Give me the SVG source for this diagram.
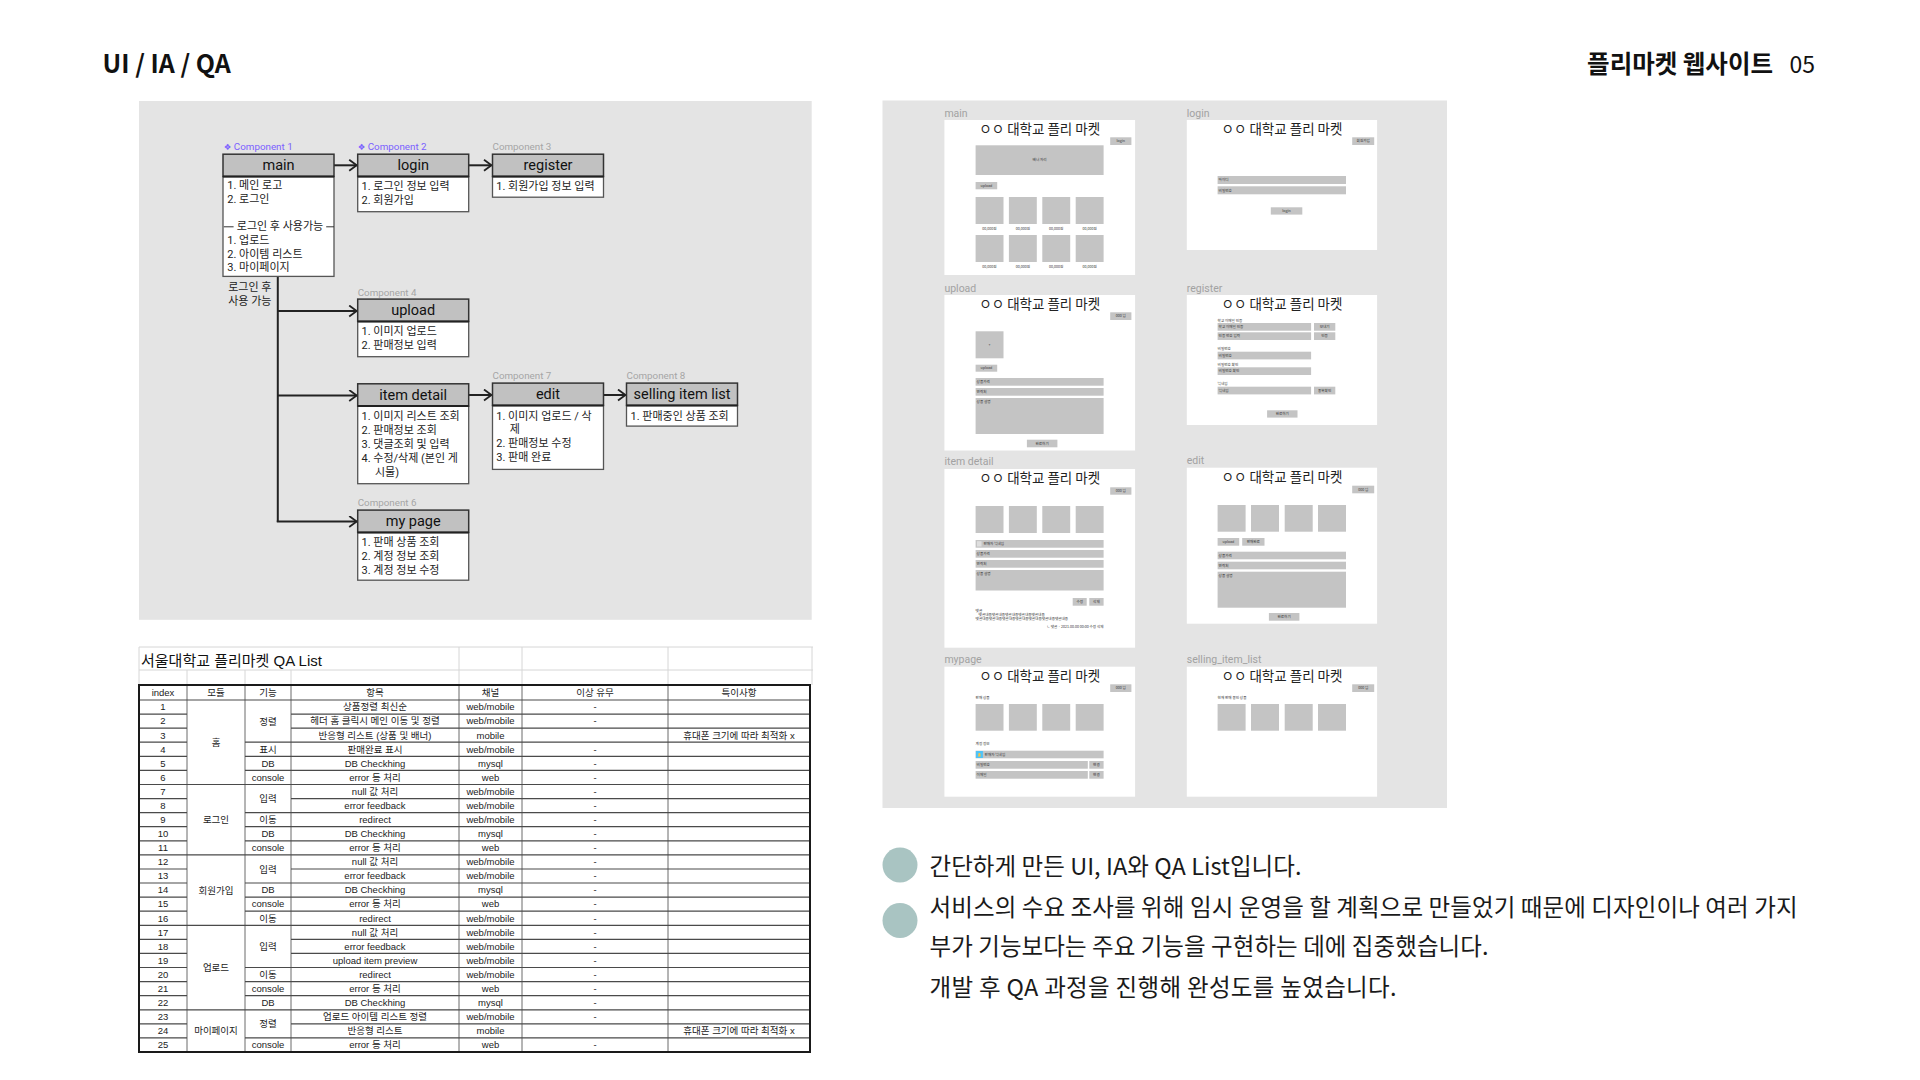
<svg xmlns="http://www.w3.org/2000/svg" width="1920" height="1080" viewBox="0 0 1920 1080">
<defs>
<marker id="chev" markerUnits="userSpaceOnUse" markerWidth="12" markerHeight="14" refX="8.5" refY="6" orient="auto">
<path d="M1,0.5 L8.5,6 L1,11.5" fill="none" stroke="#222" stroke-width="1.8"/>
</marker>
<style>
.hd{font-family:"Noto Sans CJK KR","Noto Sans",sans-serif;fill:#111}
.body{font-family:"Noto Sans CJK KR","Noto Sans",sans-serif;font-size:23.5px;fill:#1a1a1a}
.panel{fill:#e4e4e4}
.iah{fill:#c1c1c1;stroke:#333;stroke-width:1.5}
.iab{fill:#fff;stroke:#555;stroke-width:1.3}
.iad{stroke:#222;stroke-width:2}
.iat{font-family:Roboto,"Noto Sans CJK KR",sans-serif;font-size:14.5px;fill:#111;text-anchor:middle}
.iax{font-family:Roboto,"Noto Sans CJK KR",sans-serif;font-size:11px;fill:#222}
.cmp{font-family:Roboto,"Noto Sans CJK KR",sans-serif;font-size:9.8px;fill:#a6a6a6}
.cmpp{fill:#7b61ff}
.conn{stroke:#222;stroke-width:2;fill:none}
.wf{fill:#fff}
.wfl{font-family:Roboto,"Noto Sans",sans-serif;font-size:10.5px;fill:#a2a2a2}
.wft{font-family:"Noto Sans CJK KR",sans-serif;font-size:13.5px;fill:#222;text-anchor:middle}
.g{fill:#c4c4c4}
.tt{font-family:"Noto Sans CJK KR",sans-serif;font-size:3.6px;fill:#333}
.tc{text-anchor:middle}
.qt{font-family:"Liberation Sans","Noto Sans CJK KR",sans-serif;font-size:9.5px;fill:#222;text-anchor:middle}
.qtitle{font-family:"Liberation Sans","Noto Sans CJK KR",sans-serif;font-size:15px;fill:#111}
.ql{stroke:#4a4a4a;stroke-width:1.2;fill:none}
.qv{stroke:#6a6a6a;stroke-width:1;fill:none}
.qg{stroke:#d6d6d6;stroke-width:1;fill:none}
</style>
</defs>
<rect width="1920" height="1080" fill="#fff"/>

<!-- header -->
<g id="header">
<text class="hd" x="102.5" y="73" font-size="25" font-weight="700">UI / IA / QA</text>
<text class="hd" x="1773" y="73" font-size="24.5" font-weight="700" text-anchor="end">플리마켓 웹사이트</text>
<text class="hd" x="1815" y="73" font-size="23" text-anchor="end">05</text>
</g>

<!-- IA diagram -->
<g id="ia-panel">
<rect class="panel" x="139" y="101" width="672.7" height="518.8"/>
</g>

<g id="connectors">
<line class="conn" x1="333" y1="165.3" x2="356.7" y2="165.3" marker-end="url(#chev)"/>
<line class="conn" x1="468" y1="165.3" x2="491.5" y2="165.3" marker-end="url(#chev)"/>
<path class="conn" d="M277.8,276.4 V522"/>
<line class="conn" x1="277.8" y1="311" x2="356.7" y2="311" marker-end="url(#chev)"/>
<line class="conn" x1="277.8" y1="395.5" x2="356.7" y2="395.5" marker-end="url(#chev)"/>
<line class="conn" x1="276.8" y1="521.5" x2="356.7" y2="521.5" marker-end="url(#chev)"/>
<line class="conn" x1="468" y1="395" x2="491.5" y2="395" marker-end="url(#chev)"/>
<line class="conn" x1="603" y1="395" x2="625.5" y2="395" marker-end="url(#chev)"/>
</g>

<g id="ia-note">
<text class="iax" x="228.2" y="291">로그인 후</text>
<text class="iax" x="228.2" y="304.5">사용 가능</text>
</g>

<g id="ia-main">
<text class="cmp cmpp" x="223.8" y="150.3"><tspan font-family="DejaVu Sans" font-size="8.5">❖</tspan> Component 1</text>
<rect class="iab" x="223" y="176.5" width="111" height="99.9"/>
<rect class="iah" x="223" y="154.2" width="111" height="22.3"/>
<line class="iad" x1="223" y1="176.5" x2="334" y2="176.5"/>
<text class="iat" x="278.5" y="170.4">main</text>
<text class="iax" x="227.3" y="189">1. 메인 로고</text>
<text class="iax" x="227.3" y="202.9">2. 로그인</text>
<line x1="223.8" y1="226.8" x2="233.6" y2="226.8" stroke="#333" stroke-width="1"/>
<line x1="326.2" y1="226.8" x2="334" y2="226.8" stroke="#333" stroke-width="1"/>
<text class="iax" x="280" y="230.3" text-anchor="middle">로그인 후 사용가능</text>
<text class="iax" x="227.3" y="243.9">1. 업로드</text>
<text class="iax" x="227.3" y="257.8">2. 아이템 리스트</text>
<text class="iax" x="227.3" y="271.3">3. 마이페이지</text>
</g>

<g id="ia-login">
<text class="cmp cmpp" x="357.7" y="150.3"><tspan font-family="DejaVu Sans" font-size="8.5">❖</tspan> Component 2</text>
<rect class="iab" x="357.7" y="176.5" width="111" height="35.2"/>
<rect class="iah" x="357.7" y="154.2" width="111" height="22.3"/>
<line class="iad" x1="357.7" y1="176.5" x2="468.7" y2="176.5"/>
<text class="iat" x="413.2" y="170.4">login</text>
<text class="iax" x="361.5" y="190.4">1. 로그인 정보 입력</text>
<text class="iax" x="361.5" y="203.9">2. 회원가입</text>
</g>

<g id="ia-register">
<text class="cmp" x="492.5" y="150.3">Component 3</text>
<rect class="iab" x="492.5" y="176.5" width="111" height="20.7"/>
<rect class="iah" x="492.5" y="154.2" width="111" height="22.3"/>
<line class="iad" x1="492.5" y1="176.5" x2="603.5" y2="176.5"/>
<text class="iat" x="548" y="170.4">register</text>
<text class="iax" x="496.3" y="190.4">1. 회원가입 정보 입력</text>
</g>

<g id="ia-upload">
<text class="cmp" x="357.7" y="295.6">Component 4</text>
<rect class="iab" x="357.7" y="321.4" width="111" height="35.3"/>
<rect class="iah" x="357.7" y="299.1" width="111" height="22.3"/>
<line class="iad" x1="357.7" y1="321.4" x2="468.7" y2="321.4"/>
<text class="iat" x="413.2" y="315.3">upload</text>
<text class="iax" x="361.5" y="335.3">1. 이미지 업로드</text>
<text class="iax" x="361.5" y="349.2">2. 판매정보 입력</text>
</g>

<g id="ia-itemdetail">
<rect class="iab" x="357.7" y="406.1" width="111" height="77.6"/>
<rect class="iah" x="357.7" y="383.8" width="111" height="22.3"/>
<line class="iad" x1="357.7" y1="406.1" x2="468.7" y2="406.1"/>
<text class="iat" x="413.2" y="400">item detail</text>
<text class="iax" x="361.5" y="420.3">1. 이미지 리스트 조회</text>
<text class="iax" x="361.5" y="433.9">2. 판매정보 조회</text>
<text class="iax" x="361.5" y="447.7">3. 댓글조회 및 입력</text>
<text class="iax" x="361.5" y="461.6">4. 수정/삭제 (본인 게</text>
<text class="iax" x="374.9" y="475.5">시물)</text>
</g>

<g id="ia-edit">
<text class="cmp" x="492.5" y="379.3">Component 7</text>
<rect class="iab" x="492.5" y="405.4" width="111" height="64"/>
<rect class="iah" x="492.5" y="383.1" width="111" height="22.3"/>
<line class="iad" x1="492.5" y1="405.4" x2="603.5" y2="405.4"/>
<text class="iat" x="548" y="399.3">edit</text>
<text class="iax" x="496.3" y="419.6">1. 이미지 업로드 / 삭</text>
<text class="iax" x="509.7" y="433.2">제</text>
<text class="iax" x="496.3" y="447.1">2. 판매정보 수정</text>
<text class="iax" x="496.3" y="460.6">3. 판매 완료</text>
</g>

<g id="ia-selling">
<text class="cmp" x="626.5" y="379.3">Component 8</text>
<rect class="iab" x="626.5" y="405.4" width="111" height="20.7"/>
<rect class="iah" x="626.5" y="383.1" width="111" height="22.3"/>
<line class="iad" x1="626.5" y1="405.4" x2="737.5" y2="405.4"/>
<text class="iat" x="682" y="399.3">selling item list</text>
<text class="iax" x="630.5" y="419.6">1. 판매중인 상품 조회</text>
</g>

<g id="ia-mypage">
<text class="cmp" x="357.7" y="506.3">Component 6</text>
<rect class="iab" x="357.7" y="532.4" width="111" height="47.8"/>
<rect class="iah" x="357.7" y="510.1" width="111" height="22.3"/>
<line class="iad" x1="357.7" y1="532.4" x2="468.7" y2="532.4"/>
<text class="iat" x="413.2" y="526.3">my page</text>
<text class="iax" x="361.5" y="546.3">1. 판매 상품 조회</text>
<text class="iax" x="361.5" y="560.2">2. 계정 정보 조회</text>
<text class="iax" x="361.5" y="573.7">3. 계정 정보 수정</text>
</g>

<!-- QA table -->
<g id="qa-table">
<path class="qg" d="M139,647H813 M139,670H813 M139,647V685 M459,647V685 M522,647V685 M668,647V685 M812,647V685 M187,670V685 M245,670V685 M291,670V685"/>
<text class="qtitle" x="141" y="666">서울대학교 플리마켓 QA List</text>
<path class="qv" d="M187,685V1052 M245,685V1052 M291,685V1052 M459,685V1052 M522,685V1052 M668,685V1052"/>
<path class="ql" d="M139,700H810 M139,784.5H810 M139,854.9H810 M139,925.3H810 M139,1009.8H810"/>
<path class="ql" d="M139,742.2H187M245,742.2H810 M139,756.3H187M245,756.3H810 M139,770.4H187M245,770.4H810 M139,812.6H187M245,812.6H810 M139,826.7H187M245,826.7H810 M139,840.8H187M245,840.8H810 M139,883H187M245,883H810 M139,897.1H187M245,897.1H810 M139,911.2H187M245,911.2H810 M139,967.5H187M245,967.5H810 M139,981.6H187M245,981.6H810 M139,995.7H187M245,995.7H810 M139,1037.9H187M245,1037.9H810"/>
<path class="ql" d="M139,714.1H187M291,714.1H810 M139,728.2H187M291,728.2H810 M139,798.6H187M291,798.6H810 M139,869H187M291,869H810 M139,939.4H187M291,939.4H810 M139,953.4H187M291,953.4H810 M139,1023.8H187M291,1023.8H810"/>
<rect x="139" y="685" width="671" height="367" fill="none" stroke="#1a1a1a" stroke-width="2"/>
<g class="qt">
<text x="163" y="696">index</text><text x="216" y="696">모듈</text><text x="268" y="696">기능</text><text x="375" y="696">항목</text><text x="490.5" y="696">채널</text><text x="595" y="696">이상 유무</text><text x="739" y="696">특이사항</text>
<text x="163" y="710.3">1</text><text x="163" y="724.4">2</text><text x="163" y="738.5">3</text><text x="163" y="752.5">4</text><text x="163" y="766.6">5</text><text x="163" y="780.7">6</text><text x="163" y="794.8">7</text><text x="163" y="808.9">8</text><text x="163" y="822.9">9</text><text x="163" y="837">10</text><text x="163" y="851.1">11</text><text x="163" y="865.2">12</text><text x="163" y="879.3">13</text><text x="163" y="893.3">14</text><text x="163" y="907.4">15</text><text x="163" y="921.5">16</text><text x="163" y="935.6">17</text><text x="163" y="949.7">18</text><text x="163" y="963.7">19</text><text x="163" y="977.8">20</text><text x="163" y="991.9">21</text><text x="163" y="1006">22</text><text x="163" y="1020.1">23</text><text x="163" y="1034.1">24</text><text x="163" y="1048.2">25</text>
<text x="216" y="745.7">홈</text><text x="216" y="823.2">로그인</text><text x="216" y="893.6">회원가입</text><text x="216" y="971">업로드</text><text x="216" y="1034.4">마이페이지</text>
<text x="268" y="724.6">정렬</text><text x="268" y="752.5">표시</text><text x="268" y="766.6">DB</text><text x="268" y="780.7">console</text><text x="268" y="802">입력</text><text x="268" y="822.9">이동</text><text x="268" y="837">DB</text><text x="268" y="851.1">console</text><text x="268" y="872.5">입력</text><text x="268" y="893.3">DB</text><text x="268" y="907.4">console</text><text x="268" y="921.5">이동</text><text x="268" y="949.9">입력</text><text x="268" y="977.8">이동</text><text x="268" y="991.9">console</text><text x="268" y="1006">DB</text><text x="268" y="1027.3">정렬</text><text x="268" y="1048.2">console</text>
<text x="375" y="710.3">상품정렬 최신순</text><text x="375" y="724.4">헤더 홈 클릭시 메인 이동 및 정렬</text><text x="375" y="738.5">반응형 리스트 (상품 및 배너)</text><text x="375" y="752.5">판매완료 표시</text><text x="375" y="766.6">DB Checkhing</text><text x="375" y="780.7">error 등 처리</text><text x="375" y="794.8">null 값 처리</text><text x="375" y="808.9">error feedback</text><text x="375" y="822.9">redirect</text><text x="375" y="837">DB Checkhing</text><text x="375" y="851.1">error 등 처리</text><text x="375" y="865.2">null 값 처리</text><text x="375" y="879.3">error feedback</text><text x="375" y="893.3">DB Checkhing</text><text x="375" y="907.4">error 등 처리</text><text x="375" y="921.5">redirect</text><text x="375" y="935.6">null 값 처리</text><text x="375" y="949.7">error feedback</text><text x="375" y="963.7">upload item preview</text><text x="375" y="977.8">redirect</text><text x="375" y="991.9">error 등 처리</text><text x="375" y="1006">DB Checkhing</text><text x="375" y="1020.1">업로드 아이템 리스트 정렬</text><text x="375" y="1034.1">반응형 리스트</text><text x="375" y="1048.2">error 등 처리</text>
<text x="490.5" y="710.3">web/mobile</text><text x="490.5" y="724.4">web/mobile</text><text x="490.5" y="738.5">mobile</text><text x="490.5" y="752.5">web/mobile</text><text x="490.5" y="766.6">mysql</text><text x="490.5" y="780.7">web</text><text x="490.5" y="794.8">web/mobile</text><text x="490.5" y="808.9">web/mobile</text><text x="490.5" y="822.9">web/mobile</text><text x="490.5" y="837">mysql</text><text x="490.5" y="851.1">web</text><text x="490.5" y="865.2">web/mobile</text><text x="490.5" y="879.3">web/mobile</text><text x="490.5" y="893.3">mysql</text><text x="490.5" y="907.4">web</text><text x="490.5" y="921.5">web/mobile</text><text x="490.5" y="935.6">web/mobile</text><text x="490.5" y="949.7">web/mobile</text><text x="490.5" y="963.7">web/mobile</text><text x="490.5" y="977.8">web/mobile</text><text x="490.5" y="991.9">web</text><text x="490.5" y="1006">mysql</text><text x="490.5" y="1020.1">web/mobile</text><text x="490.5" y="1034.1">mobile</text><text x="490.5" y="1048.2">web</text>
<text x="595" y="710.3">-</text><text x="595" y="724.4">-</text><text x="595" y="752.5">-</text><text x="595" y="766.6">-</text><text x="595" y="780.7">-</text><text x="595" y="794.8">-</text><text x="595" y="808.9">-</text><text x="595" y="822.9">-</text><text x="595" y="837">-</text><text x="595" y="851.1">-</text><text x="595" y="865.2">-</text><text x="595" y="879.3">-</text><text x="595" y="893.3">-</text><text x="595" y="907.4">-</text><text x="595" y="921.5">-</text><text x="595" y="935.6">-</text><text x="595" y="949.7">-</text><text x="595" y="963.7">-</text><text x="595" y="977.8">-</text><text x="595" y="991.9">-</text><text x="595" y="1006">-</text><text x="595" y="1020.1">-</text><text x="595" y="1048.2">-</text>
<text x="739" y="738.5">휴대폰 크기에 따라 최적화 x</text><text x="739" y="1034.1">휴대폰 크기에 따라 최적화 x</text>
</g>
</g>

<!-- wireframes -->
<g id="wf-panel">
<rect class="panel" x="882.5" y="100.5" width="564.5" height="707.5"/>
</g>

<g id="wf-main">
<text class="wfl" x="944.4" y="116.5">main</text>
<rect class="wf" x="944.4" y="120" width="190.7" height="155"/>
<text class="wft" x="1039.7" y="134">ㅇㅇ 대학교 플리 마켓</text>
<rect class="g" x="1110.2" y="137.3" width="21.2" height="7.7"/><text class="tt tc" x="1120.8" y="142.4">login</text>
<rect class="g" x="975.6" y="145.3" width="128" height="29.7"/><text class="tt tc" x="1039.6" y="161.4">배너 자리</text>
<rect class="g" x="975.6" y="182" width="21.6" height="7.3"/><text class="tt tc" x="986.4" y="186.9">upload</text>
<rect class="g" x="975.6" y="197" width="27.9" height="27"/><rect class="g" x="1008.9" y="197" width="27.9" height="27"/><rect class="g" x="1042.3" y="197" width="27.9" height="27"/><rect class="g" x="1075.7" y="197" width="27.9" height="27"/>
<text class="tt tc" x="989.5" y="229.5">00,000원</text><text class="tt tc" x="1022.8" y="229.5">00,000원</text><text class="tt tc" x="1056.2" y="229.5">00,000원</text><text class="tt tc" x="1089.6" y="229.5">00,000원</text>
<rect class="g" x="975.6" y="235" width="27.9" height="27"/><rect class="g" x="1008.9" y="235" width="27.9" height="27"/><rect class="g" x="1042.3" y="235" width="27.9" height="27"/><rect class="g" x="1075.7" y="235" width="27.9" height="27"/>
<text class="tt tc" x="989.5" y="267.5">00,000원</text><text class="tt tc" x="1022.8" y="267.5">00,000원</text><text class="tt tc" x="1056.2" y="267.5">00,000원</text><text class="tt tc" x="1089.6" y="267.5">00,000원</text>
</g>

<g id="wf-login">
<text class="wfl" x="1186.8" y="116.5">login</text>
<rect class="wf" x="1186.8" y="120" width="190.3" height="130"/>
<text class="wft" x="1282" y="134">ㅇㅇ 대학교 플리 마켓</text>
<rect class="g" x="1352.2" y="137.3" width="22" height="7.7"/><text class="tt tc" x="1363.2" y="142.4">회원가입</text>
<rect class="g" x="1217.6" y="176" width="128.4" height="8"/><text class="tt" x="1218.6" y="181.3">아이디</text>
<rect class="g" x="1217.6" y="186.3" width="128.4" height="8"/><text class="tt" x="1218.6" y="191.6">비밀번호</text>
<rect class="g" x="1270.8" y="207.3" width="31.5" height="7.3"/><text class="tt tc" x="1286.5" y="212.2">login</text>
</g>

<g id="wf-upload">
<text class="wfl" x="944.4" y="291.5">upload</text>
<rect class="wf" x="944.4" y="295" width="190.7" height="155.5"/>
<text class="wft" x="1039.7" y="309">ㅇㅇ 대학교 플리 마켓</text>
<rect class="g" x="1110.2" y="312.3" width="21.2" height="7.7"/><text class="tt tc" x="1120.8" y="317.4">000 님</text>
<rect class="g" x="975.6" y="331.3" width="27.9" height="27"/><text class="tt tc" x="989.5" y="346">+</text>
<rect class="g" x="975.6" y="364.7" width="21.6" height="7"/><text class="tt tc" x="986.4" y="369.4">upload</text>
<rect class="g" x="975.6" y="378" width="128" height="7.7"/><text class="tt" x="976.6" y="383.1">상품가격</text>
<rect class="g" x="975.6" y="388" width="128" height="7.7"/><text class="tt" x="976.6" y="393.1">연락처</text>
<rect class="g" x="975.6" y="398" width="128" height="36"/><text class="tt" x="976.6" y="402.8">상품 설명</text>
<rect class="g" x="1026.9" y="439.7" width="30.5" height="7.6"/><text class="tt tc" x="1042.1" y="444.8">완료하기</text>
</g>

<g id="wf-register">
<text class="wfl" x="1186.8" y="291.5">register</text>
<rect class="wf" x="1186.8" y="295" width="190.3" height="130"/>
<text class="wft" x="1282" y="309">ㅇㅇ 대학교 플리 마켓</text>
<text class="tt" x="1217.6" y="321.6">학교 이메일 인증</text>
<rect class="g" x="1217.6" y="323" width="93.5" height="7.7"/><text class="tt" x="1218.6" y="328.1">학교 이메일 인증</text>
<rect class="g" x="1314" y="323" width="21.3" height="7.7"/><text class="tt tc" x="1324.6" y="328.1">보내기</text>
<rect class="g" x="1217.6" y="332.3" width="93.5" height="7.7"/><text class="tt" x="1218.6" y="337.4">인증 번호 입력</text>
<rect class="g" x="1314" y="332.3" width="21.3" height="7.7"/><text class="tt tc" x="1324.6" y="337.4">인증</text>
<text class="tt" x="1217.6" y="350.2">비밀번호</text>
<rect class="g" x="1217.6" y="351.7" width="93.5" height="7.7"/><text class="tt" x="1218.6" y="356.8">비밀번호</text>
<text class="tt" x="1217.6" y="365.8">비밀번호 확인</text>
<rect class="g" x="1217.6" y="367.3" width="93.5" height="7.7"/><text class="tt" x="1218.6" y="372.4">비밀번호 확인</text>
<text class="tt" x="1217.6" y="385.2">닉네임</text>
<rect class="g" x="1217.6" y="386.7" width="93.5" height="7.7"/><text class="tt" x="1218.6" y="391.8">닉네임</text>
<rect class="g" x="1314" y="386.7" width="21.3" height="7.7"/><text class="tt tc" x="1324.6" y="391.8">중복확인</text>
<rect class="g" x="1267.1" y="410.3" width="30.4" height="7.3"/><text class="tt tc" x="1282.3" y="415.3">완료하기</text>
</g>

<g id="wf-itemdetail">
<text class="wfl" x="944.4" y="465">item detail</text>
<rect class="wf" x="944.4" y="469" width="190.7" height="178.7"/>
<text class="wft" x="1039.7" y="483">ㅇㅇ 대학교 플리 마켓</text>
<rect class="g" x="1110.2" y="487.3" width="21.2" height="7.4"/><text class="tt tc" x="1120.8" y="492.3">000 님</text>
<rect class="g" x="975.6" y="506" width="27.9" height="27"/><rect class="g" x="1008.9" y="506" width="27.9" height="27"/><rect class="g" x="1042.3" y="506" width="27.9" height="27"/><rect class="g" x="1075.7" y="506" width="27.9" height="27"/>
<rect class="g" x="975.6" y="540" width="128" height="7.7"/><rect x="977" y="541.2" width="4.5" height="5.3" fill="#dedede"/><text class="tt" x="983.5" y="545.1">판매자 닉네임</text>
<rect class="g" x="975.6" y="550" width="128" height="7.7"/><text class="tt" x="976.6" y="555.1">상품가격</text>
<rect class="g" x="975.6" y="560" width="128" height="7.7"/><text class="tt" x="976.6" y="565.1">연락처</text>
<rect class="g" x="975.6" y="570" width="128" height="20.5"/><text class="tt" x="976.6" y="574.8">상품 설명</text>
<rect class="g" x="1072.7" y="598" width="14" height="7.7"/><text class="tt tc" x="1079.7" y="603.1">수정</text>
<rect class="g" x="1089.3" y="598" width="14.3" height="7.7"/><text class="tt tc" x="1096.4" y="603.1">삭제</text>
<text class="tt" x="975.6" y="611.5" font-size="4">댓글</text>
<text class="tt" x="978.6" y="615.5" font-size="2.4">댓글내용댓글내용댓글내용댓글내용댓글내용</text>
<text class="tt" x="975.6" y="619.5" font-size="2.4">댓글내용댓글내용댓글내용댓글내용댓글내용댓글내용댓글내용</text>
<text class="tt" x="1103.6" y="627.5" font-size="2.2" text-anchor="end">ㄴ 댓글 · 2021.00.00 00:00 수정 삭제</text>
</g>

<g id="wf-edit">
<text class="wfl" x="1186.8" y="464">edit</text>
<rect class="wf" x="1186.8" y="467.7" width="190.3" height="156"/>
<text class="wft" x="1282" y="481.5">ㅇㅇ 대학교 플리 마켓</text>
<rect class="g" x="1352.2" y="485.7" width="22" height="7.6"/><text class="tt tc" x="1363.2" y="490.8">000 님</text>
<rect class="g" x="1217.6" y="505" width="28" height="26.7"/><rect class="g" x="1251" y="505" width="28" height="26.7"/><rect class="g" x="1284.7" y="505" width="28" height="26.7"/><rect class="g" x="1318" y="505" width="28" height="26.7"/>
<rect class="g" x="1217.6" y="538" width="21.6" height="7.7"/><text class="tt tc" x="1228.4" y="543.1">upload</text>
<rect class="g" x="1242.2" y="538" width="22.3" height="7.7"/><text class="tt tc" x="1253.3" y="543.1">판매완료</text>
<rect class="g" x="1217.6" y="551.7" width="128.4" height="7.6"/><text class="tt" x="1218.6" y="556.8">상품가격</text>
<rect class="g" x="1217.6" y="561.7" width="128.4" height="7.6"/><text class="tt" x="1218.6" y="566.8">연락처</text>
<rect class="g" x="1217.6" y="571.7" width="128.4" height="36"/><text class="tt" x="1218.6" y="576.5">상품 설명</text>
<rect class="g" x="1268.9" y="613" width="30.5" height="7.7"/><text class="tt tc" x="1284.1" y="618.1">완료하기</text>
</g>

<g id="wf-mypage">
<text class="wfl" x="944.4" y="662.5">mypage</text>
<rect class="wf" x="944.4" y="666.7" width="190.7" height="130"/>
<text class="wft" x="1039.7" y="680.5">ㅇㅇ 대학교 플리 마켓</text>
<rect class="g" x="1110.2" y="684.3" width="21.2" height="7.7"/><text class="tt tc" x="1120.8" y="689.4">000 님</text>
<text class="tt" x="975.6" y="698.5">판매 상품</text>
<rect class="g" x="975.6" y="704" width="27.9" height="26.7"/><rect class="g" x="1008.9" y="704" width="27.9" height="26.7"/><rect class="g" x="1042.3" y="704" width="27.9" height="26.7"/><rect class="g" x="1075.7" y="704" width="27.9" height="26.7"/>
<text class="tt" x="975.6" y="744.5">계정 정보</text>
<rect class="g" x="975.6" y="750.7" width="128" height="7.6"/>
<rect x="975.9" y="751" width="7" height="7" fill="#4fc3f7"/><path d="M977.8,756.5 h3.2 l-0.5,-0.8 v-1.6 a1.1,1.1 0 0 0 -2.2,0 v1.6 z" fill="#f6c344"/>
<text class="tt" x="984.6" y="755.8">판매자 닉네임</text>
<rect class="g" x="975.6" y="761" width="112.2" height="7.7"/><text class="tt" x="976.6" y="766.1">비밀번호</text>
<rect class="g" x="1089.3" y="761" width="14.3" height="7.7"/><text class="tt tc" x="1096.4" y="766.1">변경</text>
<rect class="g" x="975.6" y="771" width="112.2" height="7.7"/><text class="tt" x="976.6" y="776.1">이메일</text>
<rect class="g" x="1089.3" y="771" width="14.3" height="7.7"/><text class="tt tc" x="1096.4" y="776.1">변경</text>
</g>

<g id="wf-selling">
<text class="wfl" x="1186.8" y="662.5">selling_item_list</text>
<rect class="wf" x="1186.8" y="666.7" width="190.3" height="130"/>
<text class="wft" x="1282" y="680.5">ㅇㅇ 대학교 플리 마켓</text>
<rect class="g" x="1352.2" y="684.3" width="22" height="7.7"/><text class="tt tc" x="1363.2" y="689.4">000 님</text>
<text class="tt" x="1217.6" y="698.5">현재 판매 중인 상품</text>
<rect class="g" x="1217.6" y="704" width="28" height="26.7"/><rect class="g" x="1251" y="704" width="28" height="26.7"/><rect class="g" x="1284.7" y="704" width="28" height="26.7"/><rect class="g" x="1318" y="704" width="28" height="26.7"/>
</g>

<!-- description -->
<g id="description">
<circle cx="900" cy="865" r="17.5" fill="#a9c4c2"/>
<circle cx="900" cy="920.5" r="17.5" fill="#a9c4c2"/>
<text class="body" x="929.5" y="875" textLength="372">간단하게 만든 UI, IA와 QA List입니다.</text>
<text class="body" x="929.5" y="915.5" textLength="868">서비스의 수요 조사를 위해 임시 운영을 할 계획으로 만들었기 때문에 디자인이나 여러 가지</text>
<text class="body" x="929.5" y="955" textLength="559">부가 기능보다는 주요 기능을 구현하는 데에 집중했습니다.</text>
<text class="body" x="929.5" y="995.5" textLength="467">개발 후 QA 과정을 진행해 완성도를 높였습니다.</text>
</g>
</svg>
